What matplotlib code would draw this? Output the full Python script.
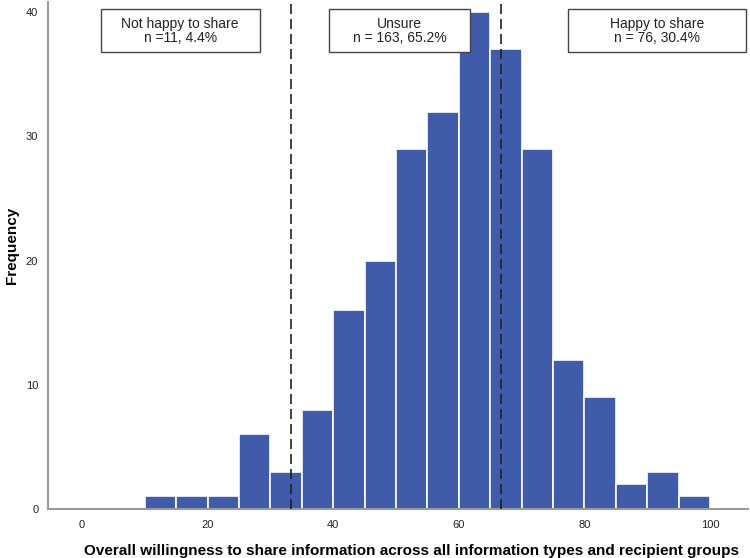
import numpy as np
import matplotlib
matplotlib.use("Agg")
import matplotlib.pyplot as plt
from matplotlib.patches import Rectangle

plt.rcParams['font.family'] = ['Liberation Sans', 'DejaVu Sans']

# histogram bins (lower edges, width 5) and counts
bin_edges = [10, 15, 20, 25, 30, 35, 40, 45, 50, 55, 60, 65, 70, 75, 80, 85, 90, 95, 100]
counts = [1, 1, 1, 6, 3, 8, 16, 20, 29, 32, 40, 37, 29, 12, 9, 2, 3, 1]
cutoffs = [100 / 3, 200 / 3]
box_labels = ["Not happy to share\nn =11, 4.4%", "Unsure\nn = 163, 65.2%", "Happy to share\nn = 76, 30.4%"]
xticks = [0, 20, 40, 60, 80, 100]
yticks = [0, 10, 20, 30, 40]

fig = plt.figure(figsize=(7.5, 5.58), dpi=100)
ax = fig.add_axes([0.064, 0.088, 0.933, 0.908])

ax.bar(bin_edges[:-1], counts, width=np.diff(bin_edges), align='edge',
       color='#3F5BA9', edgecolor='white', linewidth=1.2, zorder=2)

for c in cutoffs:
    ax.axvline(c, color='#222222', linestyle=(0, (6, 3)), linewidth=1.2, zorder=3)

# annotation boxes (left, right in data units)
boxes = [(3.0, 28.3), (39.3, 61.8), (77.4, 105.7)]
for (x0, x1), t in zip(boxes, box_labels):
    ax.add_patch(Rectangle((x0, 36.8), x1 - x0, 3.45, facecolor='white',
                           edgecolor='#444444', linewidth=1, zorder=4, clip_on=False))
    ax.text((x0 + x1) / 2, 38.5, t, ha='center', va='center', fontsize=10,
            color='#222222', linespacing=1.05, zorder=5)

ax.set_xlim(-5.4, 106)
ax.set_ylim(0, 40.8)
ax.set_xticks(xticks)
ax.set_yticks(yticks)
ax.tick_params(length=0, labelsize=8, colors='#222222')
ax.tick_params(axis='x', pad=8)
ax.tick_params(axis='y', pad=7)
for s in ['top', 'right']:
    ax.spines[s].set_visible(False)
for s in ['left', 'bottom']:
    ax.spines[s].set_color('#999999')
    ax.spines[s].set_linewidth(1.5)

ax.set_xlabel("Overall willingness to share information across all information types and recipient groups",
              fontsize=11, fontweight='bold')
ax.xaxis.set_label_coords(0.52, -0.07)
ax.set_ylabel("Frequency", fontsize=11, fontweight='bold')
ax.yaxis.set_label_coords(-0.042, 0.52)

fig.savefig("out.png", dpi=100)
